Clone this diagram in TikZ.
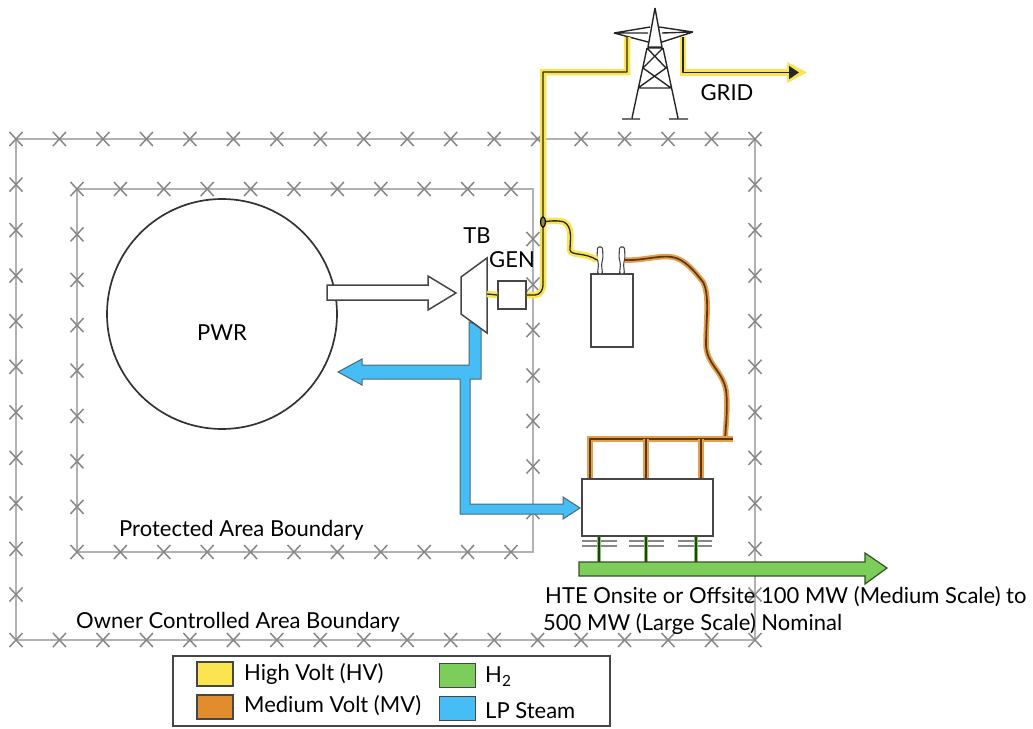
\documentclass[tikz,border=0pt]{standalone}
\usepackage{fontspec}
\setmainfont{Lato}
\usetikzlibrary{arrows.meta,calc}
\definecolor{hv}{RGB}{250,228,80}
\definecolor{mv}{RGB}{225,140,45}
\definecolor{hh}{RGB}{125,205,90}
\definecolor{lp}{RGB}{70,190,245}
\definecolor{fence}{RGB}{178,178,178}
\definecolor{fmark}{RGB}{135,135,135}
\definecolor{edge}{RGB}{70,70,70}
\tikzset{
  fenceline/.style={draw=fence,line width=2.7pt},
  fencex/.style={draw=fmark,line width=1.5pt},
  lab/.style={inner sep=0pt,font=\fontsize{22}{26}\selectfont,text=black},
  labl/.style={lab,anchor=west},
  hvwire/.style={draw=black!85,line width=1.3pt,line join=round,preaction={draw=hv,line width=6.5pt}},
  mvwire/.style={draw=black!60!mv,line width=1.7pt,line join=round,preaction={draw=mv!85,line width=5.5pt}},
  h2wire/.style={draw=black!70!hh,line width=1.6pt,preaction={draw=hh,line width=4.5pt}},
  box/.style={draw=edge,line width=1.5pt,fill=white,inner sep=0pt,minimum width=#1},
  swatch/.style={draw=edge,line width=1.3pt,inner sep=0pt,minimum width=36pt,minimum height=24pt},
  tower/.style={draw=black!85,line width=1.4pt},
}
\newcommand{\fencemark}[2]{\draw[fencex] (#1-6.5,#2-7) -- (#1+6.5,#2+7) (#1-6.5,#2+7) -- (#1+6.5,#2-7);}
\begin{document}
\begin{tikzpicture}[x=1pt,y=-1pt]
\useasboundingbox (0,0) rectangle (1033,728);
% fences
\draw[fenceline] (16,139) rectangle (755,640);
\draw[fenceline] (77,189) rectangle (533,552);
\foreach \i in {0,...,17}{
  \pgfmathsetmacro{\xx}{16+43.47*\i}
  \fencemark{\xx}{139}\fencemark{\xx}{640}}
\foreach \i in {1,...,10}{
  \pgfmathsetmacro{\yy}{139+45.55*\i}
  \fencemark{16}{\yy}\fencemark{755}{\yy}}
\foreach \i in {0,...,10}{
  \pgfmathsetmacro{\xx}{77+43.4*\i}
  \fencemark{\xx}{189}\fencemark{\xx}{552}}
\foreach \i in {1,...,7}{
  \pgfmathsetmacro{\yy}{189+45.4*\i}
  \fencemark{77}{\yy}}
\foreach \i in {0,...,6}{
  \pgfmathsetmacro{\yy}{239+45.5*\i}
  \fencemark{533}{\yy}}
% reactor
\node[circle,draw=black!80,line width=1.7pt,minimum size=230pt,inner sep=0pt,fill=white] (pwr) at (222,314) {};
\node[lab] (pwrt) at (222,333) {PWR};
% blue steam
\path[fill=lp,draw=edge!70!lp,line width=1pt] (469,322) -- (469,365) -- (362,365) -- (362,359) -- (338,372) -- (362,385) -- (362,379) -- (460,379) -- (460,514) -- (563,514) -- (563,519) -- (580,508) -- (563,497) -- (563,504) -- (470,504) -- (470,379) -- (481,379) -- (481,326) -- cycle;
% white arrow
\path[draw=edge,line width=1.5pt,fill=white] (327,285) -- (428,285) -- (428,276) -- (456,293) -- (428,310) -- (428,300) -- (327,300) -- cycle;
% tower
\coordinate (tl) at (627,37); \coordinate (tr) at (683,37);
\draw[tower] (655,8) -- (648,47) (655,8) -- (662,47) (648,47)--(662,47)
 (614,33) -- (650,27) (614,33) -- (648,42) (614,33)--(648,33)
 (693,32) -- (659,27) (693,32) -- (662,42) (693,32)--(662,33)
 (647,48) -- (663,48) (647,48) -- (632,118) (663,48) -- (678,118)
 (622,119) -- (640,119) (669,119) -- (688,119)
 (638,88) -- (671,88)
 (647,48) -- (666,68) (663,48) -- (643,68)
 (643,68) -- (671,88) (666,68) -- (638,88);
% generator, turbine
\path[draw=edge,line width=1.5pt,fill=white] (461,277) -- (487,258) -- (487,333) -- (461,314) -- cycle;
\coordinate (tbr) at (487,294);
\node[box=28pt,minimum height=28pt] (gen) at (512,295) {};
\coordinate (cable) at (543,222);
% transformer
\node[box=42pt,minimum height=73pt] (trafo) at (612,310.5) {};
\foreach \bx/\nm in {600/ba,622/bb}{
  \draw[edge,line width=1.1pt,fill=white,rounded corners=1.5pt] (\bx-2.5,274) -- (\bx-1.5,264) -- (\bx-3,258) -- (\bx-2.5,247) -- (\bx+2.5,247) -- (\bx+3,258) -- (\bx+1.5,264) -- (\bx+2.5,274) -- cycle;
  \coordinate (\nm) at (\bx,259);
}
% HV
\draw[hvwire] (tbr) -- (gen.west);
\draw[hvwire] (gen.east) -- (535,295) to[out=0,in=-90] (543,285) -- (cable) -- (543,72) -- (tl|-0,72) -- (tl);
\fill[hv] (787,62) -- (807,72.5) -- (787,83) -- cycle;
\draw[hvwire,-{Triangle[length=10pt,width=13pt]}] (tr) -- (683,72.5) coordinate (tg) -- (799,72.5) coordinate (gridend);
\draw[hvwire] (cable) .. controls (548,221) and (558,220) .. (564,222) .. controls (573,227) and (570,240) .. (570,250) .. controls (571,256) and (585,252) .. (597,260);
\draw[draw=black,line width=1.2pt,fill=hv!60!black] (cable) ellipse (2.5pt and 5pt);
% HTE
\node[box=131pt,minimum height=57pt] (hte) at (647.5,507.5) {};
% MV
\draw[mvwire] (625,260) .. controls (640,261) and (660,255) .. (672,257) .. controls (685,259) and (695,272) .. (703,282) .. controls (710,295) and (706,320) .. (706,345) .. controls (707,365) and (722,370) .. (726,390) .. controls (728,405) and (726,425) .. (725,439) coordinate (busj);
\draw[mvwire] (hte.north-|590,0) -- (590,439) -- (733,439) coordinate (busr);
\draw[mvwire] (646,439) -- (hte.north-|646,0);
\draw[mvwire] (701,439) -- (hte.north-|701,0);
% insulators
\foreach \a/\b in {582/617,629/664,678/712}{
  \draw[draw=fmark,line width=1.7pt] (\a,541) -- (\b,541) (\a,546) -- (\b,546);}
% H2
\foreach \xc in {599,646,696}{\draw[h2wire] (hte.south-|\xc,0) -- (\xc,562);}
\path[fill=hh,draw=black!60!hh,line width=1.2pt] (579,562) -- (865,562) -- (865,553) -- (887,568) -- (865,584) -- (865,576) -- (579,576) -- cycle;
% labels
\node[lab] (tb) at (477,236) {TB};
\node[lab] (gent) at (512,260) {GEN};
\node[lab] (grid) at (727,93) {GRID};
\node[labl] (pab) at (119,530) {Protected Area Boundary};
\node[labl] (oab) at (76,622) {Owner Controlled Area Boundary};
\node[labl] (hte1) at (545,597) {HTE Onsite or Offsite 100 MW (Medium Scale) to};
\node[labl] (hte2) at (543,624) {500 MW (Large Scale) Nominal};
% legend
\node[draw=edge,line width=1.4pt,fill=white,minimum width=437pt,minimum height=70pt,inner sep=0pt] (legend) at (391.5,691) {};
\node[swatch,fill=hv] (s1) at (215,674) {};
\node[swatch,fill=mv] (s2) at (215,707) {};
\node[swatch,fill=hh] (s3) at (457.5,675.5) {};
\node[swatch,fill=lp] (s4) at (457.5,708.5) {};
\node[labl] at (244,674) {High Volt (HV)};
\node[labl] at (244,706) {Medium Volt (MV)};
\node[labl] at (485,677) {H\textsubscript{2}};
\node[labl] at (485,711) {LP Steam};
\end{tikzpicture}
\end{document}
